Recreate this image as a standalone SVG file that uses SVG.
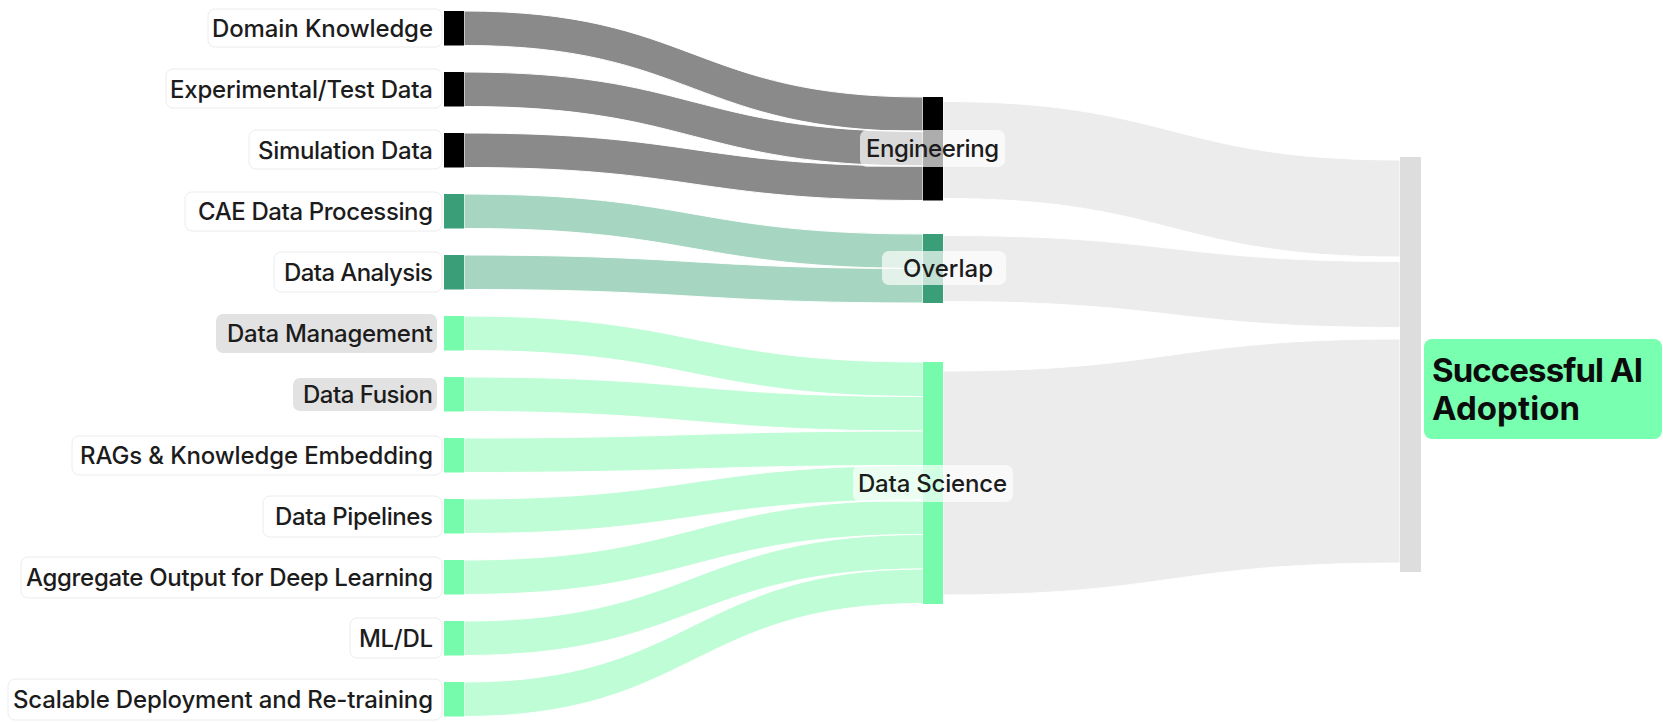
<svg xmlns="http://www.w3.org/2000/svg" width="1663" height="723" viewBox="0 0 1663 723">
<style>
.lbl{font-family:Inter,"Noto Sans","Liberation Sans",sans-serif;font-size:24px;font-weight:500;fill:#1c1c1c}
.box{fill:#ffffff;stroke:#ececec;stroke-width:1}
.hbox{fill:#e2e2e2}
.mbox{fill:#ffffff;fill-opacity:0.68}
.lk{stroke:#ffffff;stroke-width:1}
.eng-l{fill:#8a8a8a}
.ovl-l{fill:#a6d6c2}
.ds-l{fill:#bffdd6}
.out-l{fill:#ececec}
.eng-n{fill:#000000}
.ovl-n{fill:#3a9e78}
.ds-n{fill:#75fbab}
.out-n{fill:#dddddd}
.title{font-family:Inter,"Noto Sans","Liberation Sans",sans-serif;font-size:33px;font-weight:700;fill:#0c0c0c}
</style>
<rect width="1663" height="723" fill="#ffffff"/>
<g id="connectors">
<path class="lk eng-l" d="M464 11 C693.5 11 693.5 97 923 97 L923 131.5 C693.5 131.5 693.5 45.5 464 45.5 Z"/>
<path class="lk eng-l" d="M464 72 C693.5 72 693.5 131.5 923 131.5 L923 166 C693.5 166 693.5 106.5 464 106.5 Z"/>
<path class="lk eng-l" d="M464 133 C693.5 133 693.5 166 923 166 L923 200.5 C693.5 200.5 693.5 167.5 464 167.5 Z"/>
<path class="lk ovl-l" d="M464 194 C693.5 194 693.5 234 923 234 L923 268.5 C693.5 268.5 693.5 228.5 464 228.5 Z"/>
<path class="lk ovl-l" d="M464 255 C693.5 255 693.5 268.5 923 268.5 L923 303 C693.5 303 693.5 289.5 464 289.5 Z"/>
<path class="lk ds-l" d="M464 316 C693.5 316 693.5 362 923 362 L923 396.5 C693.5 396.5 693.5 350.5 464 350.5 Z"/>
<path class="lk ds-l" d="M464 377 C693.5 377 693.5 396.5 923 396.5 L923 431 C693.5 431 693.5 411.5 464 411.5 Z"/>
<path class="lk ds-l" d="M464 438 C693.5 438 693.5 431 923 431 L923 465.5 C693.5 465.5 693.5 472.5 464 472.5 Z"/>
<path class="lk ds-l" d="M464 499 C693.5 499 693.5 465.5 923 465.5 L923 500 C693.5 500 693.5 533.5 464 533.5 Z"/>
<path class="lk ds-l" d="M464 560 C693.5 560 693.5 500 923 500 L923 534.5 C693.5 534.5 693.5 594.5 464 594.5 Z"/>
<path class="lk ds-l" d="M464 621 C693.5 621 693.5 534.5 923 534.5 L923 569 C693.5 569 693.5 655.5 464 655.5 Z"/>
<path class="lk ds-l" d="M464 682 C693.5 682 693.5 569 923 569 L923 603.5 C693.5 603.5 693.5 716.5 464 716.5 Z"/>
<path class="lk out-l" d="M943 101.5 C1171.5 101.5 1171.5 160 1400 160 L1400 257 C1171.5 257 1171.5 198.5 943 198.5 Z"/>
<path class="lk out-l" d="M943 235.5 C1171.5 235.5 1171.5 261.5 1400 261.5 L1400 327.5 C1171.5 327.5 1171.5 301.5 943 301.5 Z"/>
<path class="lk out-l" d="M943 371 C1171.5 371 1171.5 339 1400 339 L1400 563 C1171.5 563 1171.5 595 943 595 Z"/>
</g>
<g id="n-domain"><rect class="box" x="208" y="9" width="234" height="38" rx="7"/><rect class="eng-n" x="444" y="11" width="20" height="34.5"/><text class="lbl" x="433" y="36.6" text-anchor="end" textLength="221">Domain Knowledge</text></g>
<g id="n-experimental"><rect class="box" x="166" y="69" width="276" height="39" rx="7"/><rect class="eng-n" x="444" y="72" width="20" height="34.5"/><text class="lbl" x="433" y="97.6" text-anchor="end" textLength="263">Experimental/Test Data</text></g>
<g id="n-simulation"><rect class="box" x="249" y="130" width="193" height="39" rx="7"/><rect class="eng-n" x="444" y="133" width="20" height="34.5"/><text class="lbl" x="433" y="158.6" text-anchor="end" textLength="175">Simulation Data</text></g>
<g id="n-cae"><rect class="box" x="185" y="192" width="257" height="39" rx="7"/><rect class="ovl-n" x="444" y="194" width="20" height="34.5"/><text class="lbl" x="433" y="219.6" text-anchor="end" textLength="235">CAE Data Processing</text></g>
<g id="n-analysis"><rect class="box" x="274" y="252" width="168" height="40" rx="7"/><rect class="ovl-n" x="444" y="255" width="20" height="34.5"/><text class="lbl" x="433" y="280.6" text-anchor="end" textLength="149">Data Analysis</text></g>
<g id="n-management"><rect class="hbox" x="216" y="314" width="221" height="39" rx="7"/><rect class="ds-n" x="444" y="316" width="20" height="34.5"/><text class="lbl" x="433" y="341.6" text-anchor="end" textLength="206">Data Management</text></g>
<g id="n-fusion"><rect class="hbox" x="293" y="378" width="144" height="33" rx="7"/><rect class="ds-n" x="444" y="377" width="20" height="34.5"/><text class="lbl" x="433" y="402.6" text-anchor="end" textLength="130">Data Fusion</text></g>
<g id="n-rags"><rect class="box" x="72" y="436" width="370" height="39" rx="7"/><rect class="ds-n" x="444" y="438" width="20" height="34.5"/><text class="lbl" x="433" y="463.6" text-anchor="end" textLength="353">RAGs &amp; Knowledge Embedding</text></g>
<g id="n-pipelines"><rect class="box" x="263" y="496" width="179" height="41" rx="7"/><rect class="ds-n" x="444" y="499" width="20" height="34.5"/><text class="lbl" x="433" y="524.6" text-anchor="end" textLength="158">Data Pipelines</text></g>
<g id="n-aggregate"><rect class="box" x="21" y="557" width="421" height="41" rx="7"/><rect class="ds-n" x="444" y="560" width="20" height="34.5"/><text class="lbl" x="433" y="585.6" text-anchor="end" textLength="407">Aggregate Output for Deep Learning</text></g>
<g id="n-mldl"><rect class="box" x="350" y="618" width="92" height="40" rx="7"/><rect class="ds-n" x="444" y="621" width="20" height="34.5"/><text class="lbl" x="433" y="646.6" text-anchor="end" textLength="74">ML/DL</text></g>
<g id="n-scalable"><rect class="box" x="8" y="679" width="434" height="41" rx="7"/><rect class="ds-n" x="444" y="682" width="20" height="34.5"/><text class="lbl" x="433" y="707.6" text-anchor="end" textLength="420">Scalable Deployment and Re-training</text></g>
<g id="n-engineering"><rect class="eng-n" x="923" y="97" width="20" height="103.5"/><rect class="mbox" x="860" y="130" width="145" height="37" rx="7"/><text class="lbl" x="932.5" y="157.3" text-anchor="middle" textLength="133">Engineering</text></g>
<g id="n-overlap"><rect class="ovl-n" x="923" y="234" width="20" height="69"/><rect class="mbox" x="882" y="251" width="124" height="34" rx="7"/><text class="lbl" x="948" y="276.8" text-anchor="middle" textLength="90">Overlap</text></g>
<g id="n-datascience"><rect class="ds-n" x="923" y="362" width="20" height="242"/><rect class="mbox" x="853" y="465" width="160" height="37" rx="7"/><text class="lbl" x="932.5" y="491.8" text-anchor="middle" textLength="149">Data Science</text></g>
<g id="n-success"><rect class="out-n" x="1400" y="157" width="21" height="415"/><rect x="1424" y="339" width="238" height="100" rx="8" fill="#78ffaf"/><text class="title" x="1432" y="382" textLength="211">Successful AI</text><text class="title" x="1432" y="420" textLength="148">Adoption</text></g>
</svg>
